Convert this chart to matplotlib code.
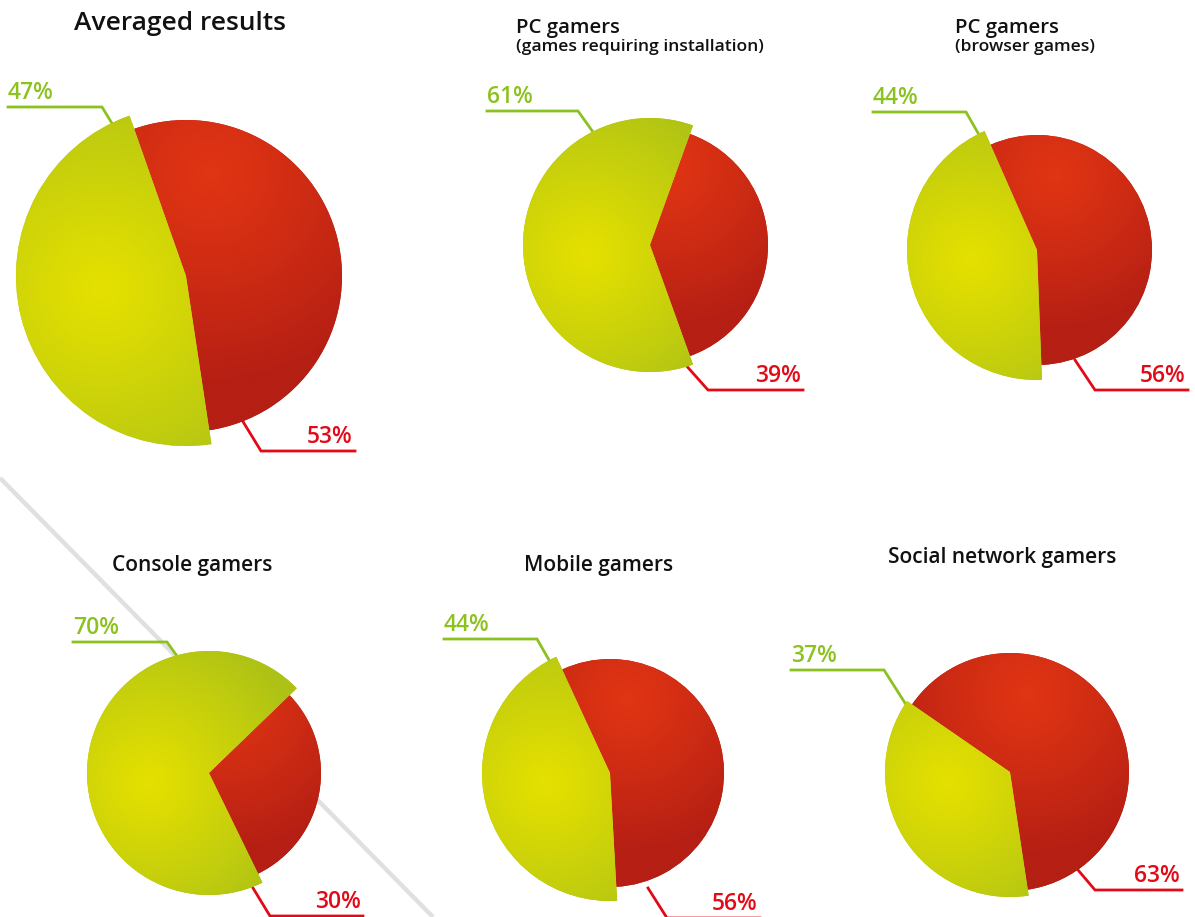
import numpy as np
import matplotlib
matplotlib.use('Agg')
import matplotlib.pyplot as plt
from matplotlib.colors import to_rgb

plt.rcParams['font.family'] = ['Open Sans', 'DejaVu Sans']

# data
titles = ['Averaged results', 'PC gamers', 'PC gamers',
          'Console gamers', 'Mobile gamers', 'Social network gamers']
subtitles = ['', '(games requiring installation)', '(browser games)', '', '', '']
green_pct = [47, 61, 44, 70, 44, 37]
red_pct = [53, 39, 56, 30, 56, 63]

W, H = 1195, 917
# layout (pixels, y from top): center x, center y, red radius, green radius, red mid angle (cw from top)
geo = [(186, 276, 156, 170, 76),
       (650, 245, 118, 127, 90),
       (1037, 250, 115, 130, 77),
       (209, 773, 112, 122, 100),
       (610, 773, 114, 128, 76),
       (1010, 772, 119, 125, 58)]
# title positions: x, y, alignment, size
tpos = [(180, 23, 'center', 19), (516, 28, 'left', 14.7), (955, 28, 'left', 14.7),
        (192, 565, 'center', 15), (599, 565, 'center', 15), (1002, 558, 'center', 15)]
# label leader lines: green (text x, line y, bend x, end x, end y), red (start x, start y, bend x, line y, end x)
glab = [(8, 107, 102, 113, 125), (487, 111, 578, 593, 132), (873, 112, 966, 978, 133),
        (73, 642, 167, 177, 656), (444, 639, 537, 549, 660), (791, 670, 884, 905, 703)]
rlab = [(242, 420, 261, 451, 355), (683, 362, 708, 390, 803), (1075, 360, 1095, 390, 1188),
        (253, 888, 270, 916, 363), (648, 888, 667, 918, 760), (1078, 870, 1095, 890, 1182)]

red_hi, red_lo = np.array(to_rgb('#e13513')), np.array(to_rgb('#b51f14'))
grn_hi, grn_lo = np.array(to_rgb('#e5e000')), np.array(to_rgb('#adc216'))
green_txt = '#8cc21f'
red_txt = '#e20a17'


def fy(y):
    return H - y


def gradient(ax, wedge, cx, cy, hx, hy, r, c_hi, c_lo):
    # radial gradient clipped to the wedge, all in data coords
    x0, x1 = cx - r * 1.15, cx + r * 1.15
    y0, y1 = cy - r * 1.15, cy + r * 1.15
    xs = np.linspace(x0, x1, 300)
    ys = np.linspace(y0, y1, 300)
    X, Y = np.meshgrid(xs, ys)
    d = np.clip(np.hypot(X - hx, Y - hy) / (1.35 * r), 0, 1) ** 1.1
    img = c_hi[None, None, :] * (1 - d[..., None]) + c_lo[None, None, :] * d[..., None]
    im = ax.imshow(img, extent=[x0, x1, y0, y1], origin='lower',
                   interpolation='bilinear', zorder=3)
    im.set_clip_path(wedge)


fig = plt.figure(figsize=(W / 100., H / 100.), dpi=100)
ax = fig.add_axes([0, 0, 1, 1])

# grey diagonal separator
ax.plot([0, 433], [fy(478), fy(917)], color='#e0e0e0', lw=3.2, zorder=1,
        solid_capstyle='butt')

for i in range(6):
    cx, cy, rr, rg, mid = geo[i]
    cyd = fy(cy)
    span = red_pct[i] / 100. * 360.
    start = 90 - mid + span / 2.
    wedges, _ = ax.pie([red_pct[i], green_pct[i]], center=(cx, cyd), radius=rr,
                       startangle=start, counterclock=False, frame=True,
                       colors=[tuple(red_lo), tuple(grn_lo)],
                       wedgeprops=dict(linewidth=0))
    wedges[1].set_radius(rg)
    for w in wedges:
        w.set_zorder(2)
    gradient(ax, wedges[0], cx, cyd, cx + 0.15 * rr, cyd + 0.65 * rr, rr, red_hi, red_lo)
    gradient(ax, wedges[1], cx, cyd, cx - 0.5 * rg, cyd - 0.08 * rg, rg, grn_hi, grn_lo)

    # titles
    tx, ty, ha, ts = tpos[i]
    ax.text(tx, fy(ty), titles[i], ha=ha, va='center', fontsize=ts,
            fontweight='semibold', color='#111111')
    if subtitles[i]:
        ax.text(tx, fy(ty + 19), subtitles[i], ha=ha, va='center', fontsize=12.6,
                fontweight='semibold', color='#111111')

    # green label
    gx, gy, bx, ex, ey = glab[i]
    ax.plot([gx, bx, ex], [fy(gy), fy(gy), fy(ey)], color=green_txt, lw=2, zorder=1.5,
            solid_joinstyle='miter')
    ax.text(gx, fy(gy - 2), '%d%%' % green_pct[i], ha='left', va='bottom',
            fontsize=16.5, fontweight='semibold', color=green_txt)
    # red label
    sx, sy, bx, ly, ex = rlab[i]
    ax.plot([sx, bx, ex], [fy(sy), fy(ly), fy(ly)], color=red_txt, lw=2, zorder=1.5,
            solid_joinstyle='miter')
    ax.text(ex - 2, fy(ly - 2), '%d%%' % red_pct[i], ha='right', va='bottom',
            fontsize=16.5, fontweight='semibold', color=red_txt)

ax.set_xlim(0, W)
ax.set_ylim(0, H)
ax.axis('off')

fig.savefig('out.png', dpi=100)
